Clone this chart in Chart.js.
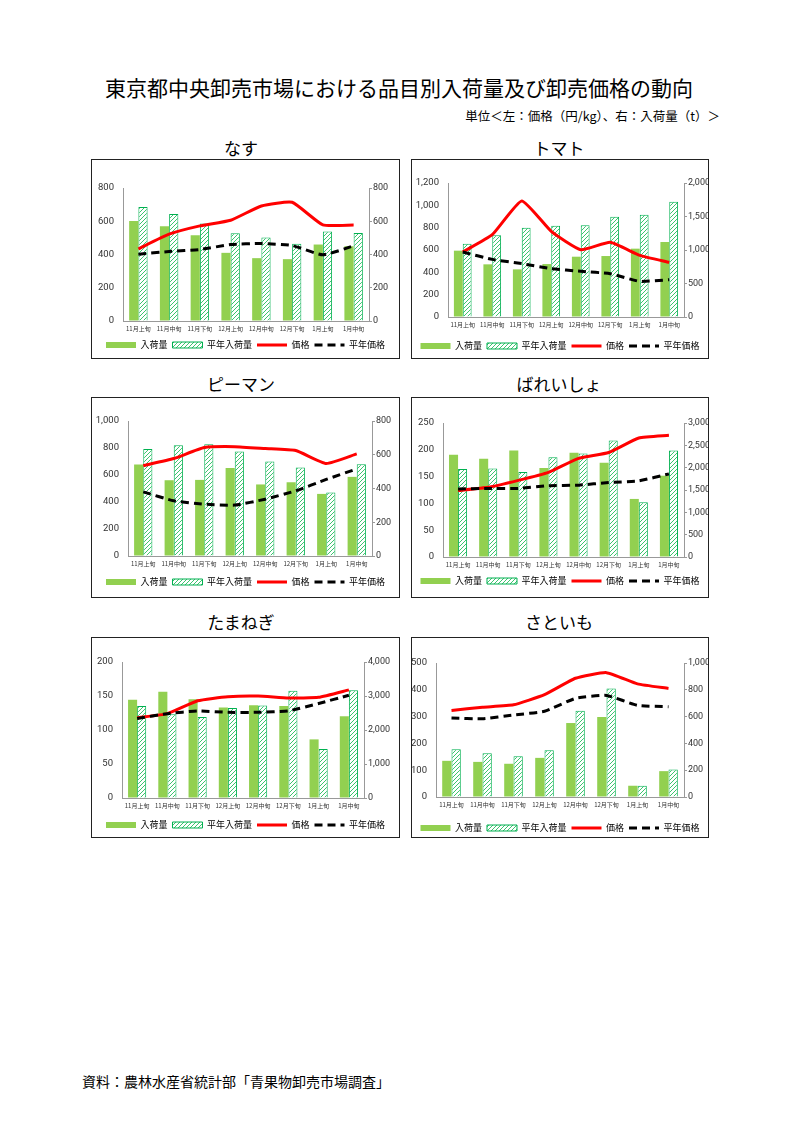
<!DOCTYPE html>
<html lang="ja">
<head>
<meta charset="UTF-8">
<title>東京都中央卸売市場における品目別入荷量及び卸売価格の動向</title>
<script src="https://cdn.jsdelivr.net/npm/chart.js"></script>
<style>
    body {
        margin: 0;
        width: 794px;
        height: 1123px;
        position: relative;
        background: #fff;
        font-family: "Noto Sans CJK JP", sans-serif;
        color: #000;
    }
    .txt {
        position: absolute;
        white-space: nowrap;
        line-height: 1;
    }
    #mainTitle { left: 0; width: 798px; text-align: center; top: 77px; font-size: 21px; }
    #unit { right: 74px; top: 110px; font-size: 12.5px; }
    #source { left: 82px; top: 1074px; font-size: 14px; }
    .ptitle { font-size: 17px; transform: translate(-50%, -50%); }
    .box {
        position: absolute;
        border: 1px solid #222;
        box-sizing: border-box;
    }
    .box canvas { position: absolute; left: 0; top: 0; }
</style>
</head>
<body>
<div class="txt" id="mainTitle">東京都中央卸売市場における品目別入荷量及び卸売価格の動向</div>
<div class="txt" id="unit">単位＜左：価格（円/kg）、右：入荷量（t）＞</div>
<div class="txt" id="source">資料：農林水産省統計部「青果物卸売市場調査」</div>
<div id="panels"></div>
<script>
// categories (x axis)
const categories = ['11月上旬', '11月中旬', '11月下旬', '12月上旬', '12月中旬', '12月下旬', '1月上旬', '1月中旬'];

// なす
const nasuVol = [602, 570, 516, 410, 378, 372, 460, 450];
const nasuVolAvg = [686, 644, 586, 528, 502, 464, 538, 530];
const nasuPrice = [434, 522, 572, 606, 692, 714, 578, 578];
const nasuPriceAvg = [402, 418, 430, 460, 466, 454, 398, 452];

// トマト
const tomatoVol = [990, 786, 711, 790, 900, 910, 1020, 1119];
const tomatoVolAvg = [1095, 1219, 1333, 1363, 1368, 1498, 1527, 1721];
const tomatoPrice = [582, 737, 1039, 767, 603, 669, 552, 490];
const tomatoPriceAvg = [582, 516, 478, 433, 409, 388, 319, 334];

// ピーマン
const pimanVol = [542, 449, 451, 522, 424, 437, 368, 469];
const pimanVolAvg = [634, 656, 662, 619, 560, 524, 376, 544];
const pimanPrice = [670, 722, 803, 810, 796, 781, 685, 756];
const pimanPriceAvg = [475, 409, 384, 377, 421, 483, 567, 645];

// ばれいしょ
const potatoVol = [2287, 2198, 2384, 1990, 2332, 2109, 1300, 1820];
const potatoVolAvg = [1968, 1983, 1901, 2235, 2317, 2606, 1225, 2384];
const potatoPrice = [124, 130, 143, 158, 184, 195, 222, 227];
const potatoPriceAvg = [127, 128, 128, 133, 134, 139, 142, 155];

// たまねぎ
const onionVol = [2887, 3123, 2906, 2660, 2729, 2709, 1724, 2404];
const onionVolAvg = [2709, 2463, 2384, 2650, 2719, 3153, 1438, 3172];
const onionPrice = [118, 124, 143, 149, 150, 147, 148, 159];
const onionPriceAvg = [117, 124, 128, 126, 126, 128, 139, 151];

// さといも
const taroVol = [270, 262, 248, 292, 552, 597, 84, 193];
const taroVolAvg = [356, 327, 304, 349, 644, 809, 84, 205];
const taroPrice = [323, 335, 344, 382, 443, 464, 422, 405];
const taroPriceAvg = [295, 292, 306, 320, 368, 379, 342, 337];

// axis ranges: left = price, right = volume
const panels = [
    { title: 'なす', vol: nasuVol, volAvg: nasuVolAvg, price: nasuPrice, priceAvg: nasuPriceAvg, leftMax: 800, leftStep: 200, rightMax: 800, rightStep: 200 },
    { title: 'トマト', vol: tomatoVol, volAvg: tomatoVolAvg, price: tomatoPrice, priceAvg: tomatoPriceAvg, leftMax: 1200, leftStep: 200, rightMax: 2000, rightStep: 500 },
    { title: 'ピーマン', vol: pimanVol, volAvg: pimanVolAvg, price: pimanPrice, priceAvg: pimanPriceAvg, leftMax: 1000, leftStep: 200, rightMax: 800, rightStep: 200 },
    { title: 'ばれいしょ', vol: potatoVol, volAvg: potatoVolAvg, price: potatoPrice, priceAvg: potatoPriceAvg, leftMax: 250, leftStep: 50, rightMax: 3000, rightStep: 500 },
    { title: 'たまねぎ', vol: onionVol, volAvg: onionVolAvg, price: onionPrice, priceAvg: onionPriceAvg, leftMax: 200, leftStep: 50, rightMax: 4000, rightStep: 1000 },
    { title: 'さといも', vol: taroVol, volAvg: taroVolAvg, price: taroPrice, priceAvg: taroPriceAvg, leftMax: 500, leftStep: 100, rightMax: 1000, rightStep: 200 }
];

// page positions of each panel: box [left, top, width, height], plot area [left, right, top, bottom]
const layout = [
    { box: [91, 159, 309, 200], plot: [123, 369, 188, 321], legendY: 345, titleX: 241, titleY: 147 },
    { box: [411, 159, 298, 200], plot: [448, 684, 183, 317], legendY: 346, titleX: 559, titleY: 147 },
    { box: [91, 397, 309, 201], plot: [128, 372, 421, 556], legendY: 582, titleX: 241, titleY: 383 },
    { box: [411, 397, 298, 201], plot: [443, 684, 423, 557], legendY: 581, titleX: 559, titleY: 383 },
    { box: [91, 637, 309, 201], plot: [122, 364, 662, 798], legendY: 825, titleX: 241, titleY: 621 },
    { box: [411, 637, 298, 201], plot: [436, 684, 663, 797], legendY: 828, titleX: 559, titleY: 621 }
];

Chart.defaults.color = '#333';
Chart.defaults.font.family = "'Noto Sans', 'Noto Sans CJK JP', sans-serif";
const tickFont = { size: 9.5, family: "'Liberation Sans Narrow', Roboto, sans-serif" };
const rightTickFont = { size: 9, family: "'Liberation Sans Narrow', Roboto, sans-serif" };

// white tile with a one-pixel green diagonal, "////"
function makeHatch() {
    const c = document.createElement('canvas');
    c.width = 4;
    c.height = 4;
    const g = c.getContext('2d');
    g.fillStyle = '#fff';
    g.fillRect(0, 0, 4, 4);
    g.fillStyle = '#3CC46E';
    for (let k = 0; k < 4; k++) g.fillRect(k, 3 - k, 1, 1);
    return g.createPattern(c, 'repeat');
}

const legendHeight = 18;
const container = document.getElementById('panels');

panels.forEach((p, i) => {
    const L = layout[i];
    const [bx, by, bw, bh] = L.box;
    const [pl, pr, pt, pb] = L.plot;

    const t = document.createElement('div');
    t.className = 'txt ptitle';
    t.style.left = L.titleX + 'px';
    t.style.top = L.titleY + 'px';
    t.textContent = p.title;
    container.appendChild(t);

    const box = document.createElement('div');
    box.className = 'box';
    box.style.left = bx + 'px';
    box.style.top = by + 'px';
    box.style.width = bw + 'px';
    box.style.height = bh + 'px';
    const canvas = document.createElement('canvas');
    canvas.width = bw - 2;
    canvas.height = bh - 2;
    box.appendChild(canvas);
    container.appendChild(box);

    // canvas origin on the page
    const cx = bx + 1, cy = by + 1;
    const cBottom = cy + bh - 2;
    const padBottom = (cBottom - L.legendY) - 8.5;
    const leftW = pl - cx;
    const rightW = (cx + bw - 2) - pr;
    const xAxisH = cBottom - padBottom - legendHeight - pb;

    new Chart(canvas, {
        type: 'bar',
        data: {
            labels: categories,
            datasets: [
                {
                    type: 'bar', label: '入荷量', data: p.vol, yAxisID: 'y1',
                    backgroundColor: '#92D050', borderWidth: 0,
                    categoryPercentage: 0.6, barPercentage: 1.0, order: 2
                },
                {
                    type: 'bar', label: '平年入荷量', data: p.volAvg, yAxisID: 'y1',
                    backgroundColor: makeHatch(), borderColor: '#00B050', borderWidth: 1,
                    categoryPercentage: 0.6, barPercentage: 1.0, order: 2
                },
                {
                    type: 'line', label: '価格', data: p.price, yAxisID: 'y',
                    borderColor: '#FF0000', borderWidth: 3, pointRadius: 0,
                    tension: 0.15, order: 1
                },
                {
                    type: 'line', label: '平年価格', data: p.priceAvg, yAxisID: 'y',
                    borderColor: '#000', borderWidth: 3, borderDash: [8, 5], pointRadius: 0,
                    tension: 0.15, order: 0
                }
            ]
        },
        options: {
            responsive: false,
            animation: false,
            layout: { padding: { left: 0, right: 0, top: pt - cy, bottom: padBottom } },
            scales: {
                x: {
                    grid: { display: false, drawTicks: false },
                    border: { display: true, color: '#999' },
                    ticks: { font: { size: 6, family: "'Noto Sans CJK JP', sans-serif" }, color: '#333', maxRotation: 0, autoSkip: false, padding: 4 },
                    afterFit: s => { s.height = xAxisH; }
                },
                y: {
                    position: 'left', min: 0, max: p.leftMax,
                    grid: { display: false, drawTicks: false },
                    border: { display: true, color: '#999' },
                    ticks: { stepSize: p.leftStep, padding: 9, font: tickFont, callback: v => v.toLocaleString('en-US') },
                    afterFit: s => { s.width = leftW; }
                },
                y1: {
                    position: 'right', min: 0, max: p.rightMax,
                    grid: { drawOnChartArea: false, drawTicks: true, tickLength: 3, color: '#999' },
                    border: { display: true, color: '#999' },
                    ticks: { stepSize: p.rightStep, padding: 1, font: rightTickFont, callback: v => v.toLocaleString('en-US') },
                    afterFit: s => { s.width = rightW; }
                }
            },
            plugins: {
                tooltip: { enabled: false },
                legend: {
                    position: 'bottom',
                    maxHeight: legendHeight,
                    labels: {
                        usePointStyle: true,
                        pointStyleWidth: 30,
                        boxHeight: 6,
                        padding: 5,
                        color: '#000',
                        font: { size: 9, family: "'Noto Sans CJK JP', sans-serif" },
                        sort: (a, b) => a.datasetIndex - b.datasetIndex,
                        generateLabels: chart => {
                            const items = Chart.defaults.plugins.legend.labels.generateLabels(chart);
                            items.forEach(it => {
                                const ds = chart.data.datasets[it.datasetIndex];
                                if (ds.type === 'line') {
                                    it.pointStyle = 'line';
                                    it.lineDash = ds.borderDash || [];
                                    it.lineWidth = ds.borderWidth;
                                    it.strokeStyle = ds.borderColor;
                                } else {
                                    it.pointStyle = 'rect';
                                }
                            });
                            return items;
                        }
                    }
                }
            }
        }
    });
});
</script>
</body>
</html>
